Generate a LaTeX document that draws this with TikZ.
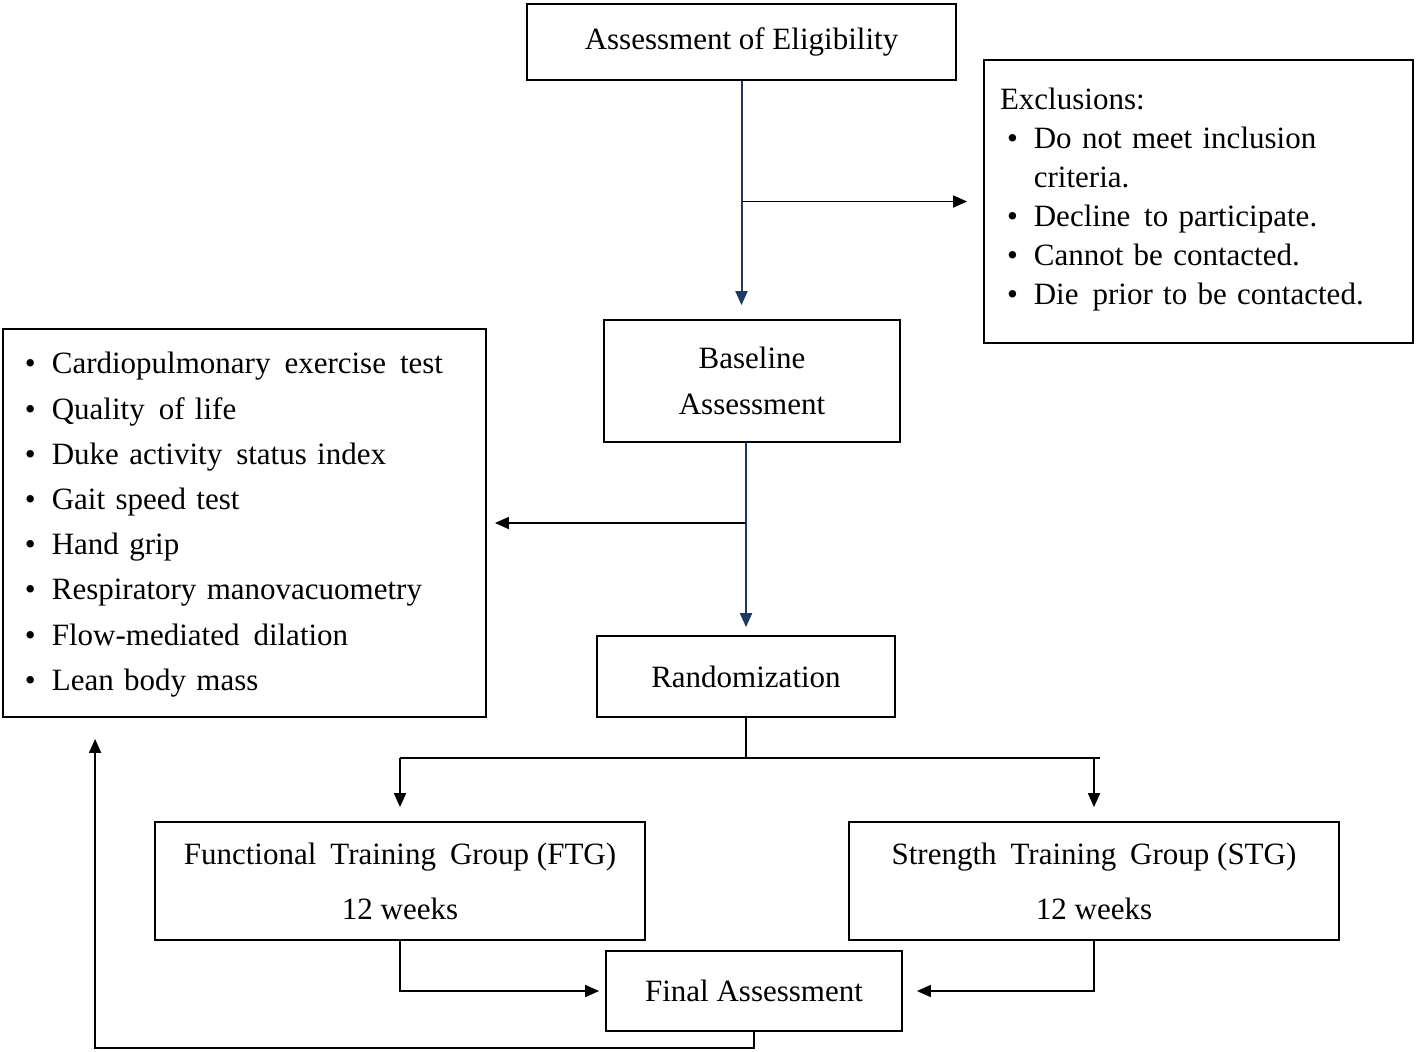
\documentclass[tikz,border=0pt]{standalone}
\usepackage{fontspec}
\setmainfont{Liberation Serif}
\usepackage{tikz}
\usetikzlibrary{arrows.meta,calc,positioning}
\usepackage{xcolor}
\definecolor{navy}{RGB}{31,56,100}
\newcommand{\wsp}{\hspace{0.45em}}

\begin{document}
\begin{tikzpicture}[x=0.5pt,y=-0.5pt,
    box/.style={draw,line width=0.9pt,align=center,inner sep=0pt,font=\fontsize{15.5}{23}\selectfont},
    arr/.style={line width=0.9pt,-{Triangle[length=7pt,width=6pt]}},
    bluearr/.style={arr,line width=1pt,draw=navy,fill=navy}]
    \useasboundingbox (0,0) rectangle (1418,1051);
    % boxes
    \node[box,minimum width=214.5pt,minimum height=141.5pt,text width=198.5pt,inner xsep=8pt,align=left,
          font=\fontsize{15.5}{19.5}\selectfont] (excl) at (1198.5,201.5) {%
        \begin{tabular}{@{\hspace{3.5pt}}l@{\hspace{8pt}}l@{}}
        \multicolumn{2}{@{}l}{Exclusions:}\\
        \textbullet & Do not meet inclusion\\
                    & criteria.\\
        \textbullet & Decline\wsp to participate.\\
        \textbullet & Cannot be contacted.\\
        \textbullet & Die\wsp prior to be contacted.\\[2.5pt]
        \end{tabular}};
    \node[box,minimum width=214.5pt,minimum height=38pt] (elig) at (741.5,42) {Assessment of Eligibility};
    \node[box,minimum width=148pt,minimum height=61pt] (base) at (752,381) {Baseline\\Assessment};
    \node[box,minimum width=241.5pt,minimum height=194pt,text width=219.5pt,inner xsep=11pt,align=left,
          font=\fontsize{15.5}{22.6}\selectfont] (list) at (244.5,523) {%
        \begin{tabular}{@{}l@{\hspace{8pt}}l@{}}
        \textbullet & Cardiopulmonary\wsp exercise\wsp test\\
        \textbullet & Quality\wsp of life\\
        \textbullet & Duke activity\wsp status index\\
        \textbullet & Gait speed test\\
        \textbullet & Hand grip\\
        \textbullet & Respiratory manovacuometry\\
        \textbullet & Flow-mediated\wsp dilation\\
        \textbullet & Lean body mass
        \end{tabular}};
    \node[box,minimum width=149pt,minimum height=40.5pt] (rand) at (746,676.5) {Randomization};
    \node[box,minimum width=245pt,minimum height=59pt,font=\fontsize{15.5}{27.5}\selectfont] (ftg) at (400,881)
        {Functional\wsp Training\wsp Group (FTG)\\12 weeks};
    \node[box,minimum width=245pt,minimum height=59pt,font=\fontsize{15.5}{27.5}\selectfont] (stg) at (1094,881)
        {Strength\wsp Training\wsp Group (STG)\\12 weeks};
    \node[box,minimum width=148pt,minimum height=40pt] (final) at (754,991) {Final Assessment};
    % connectors
    \coordinate (split) at ($(rand.south)+(0,-20pt)$);
    \coordinate (back) at ($(list.south west)+(46.5pt,-10.5pt)$);
    \draw[bluearr,shorten >=7pt] (elig.south) -- (elig.south |- base.north);
    \draw[arr,shorten >=8pt] (elig.south |- excl.west) -- (excl.west);
    \draw[bluearr,shorten >=4pt] (base.south -| rand.north) -- (rand.north);
    \draw[arr,shorten >=4pt] (rand.north |- list.east) -- (list.east);
    \draw[line width=0.9pt] (rand.south) -- (split);
    \draw[line width=0.9pt] (ftg.north |- split) -- ($(stg.north |- split)+(3pt,0)$);
    \draw[arr,shorten >=7pt] (ftg.north |- split) -- (ftg.north);
    \draw[arr,shorten >=7pt] (stg.north |- split) -- (stg.north);
    \draw[arr,shorten >=3pt] (ftg.south) |- (final.west);
    \draw[arr,shorten >=7pt] (stg.south) |- (final.east);
    \draw[arr] (final.south) -- ++(0,-8pt) -| (back);
\end{tikzpicture}
\end{document}
